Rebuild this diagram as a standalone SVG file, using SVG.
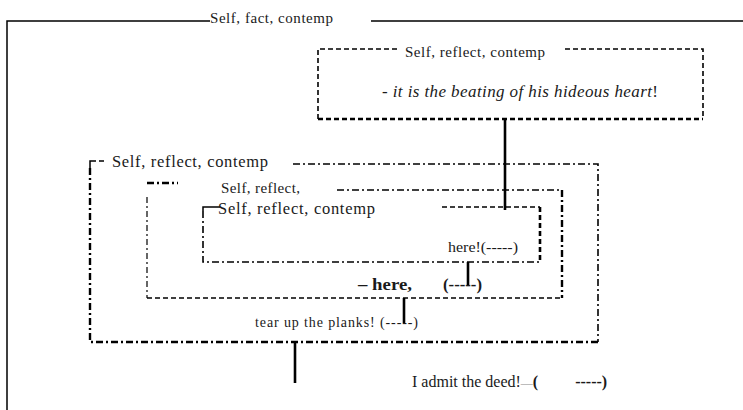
<svg xmlns="http://www.w3.org/2000/svg" width="743" height="410" viewBox="0 0 743 410">
<style>
  .t { font-family: "Liberation Serif", "Times New Roman", serif; fill: #1a1a1a; white-space: pre; }
  .solid { fill: none; stroke: #000; stroke-width: 1.5; }
  .dash { fill: none; stroke: #000; stroke-width: 1.6; stroke-dasharray: 5 3; }
  .dashB { fill: none; stroke: #000; stroke-width: 2.6; stroke-dasharray: 5 3; }
  .dd { fill: none; stroke: #000; stroke-width: 1.6; stroke-dasharray: 7 3 2 3; }
  .ddB { fill: none; stroke: #000; stroke-width: 2.4; stroke-dasharray: 7 3 2 3; }
  .ddT { fill: none; stroke: #000; stroke-width: 1.2; stroke-dasharray: 6 3 2 3; }
  .conn { fill: none; stroke: #000; stroke-width: 2.6; }
</style>
<rect width="743" height="410" fill="#fff"/>

<g id="outer">
  <path class="solid" d="M7,410 V21 H210 M371,21 H743"/>
  <text class="t" x="210" y="23" font-size="15" textLength="123" lengthAdjust="spacing">Self, fact, contemp</text>
</g>

<g id="box1">
  <path class="dash" d="M318,119 V49 H397 M565,49 H703 V119"/>
  <path class="dashB" d="M318,119 H703"/>
  <text class="t" x="405" y="57" font-size="15" textLength="140" lengthAdjust="spacing">Self, reflect, contemp</text>
  <text class="t" x="382" y="97" font-size="17" textLength="276" lengthAdjust="spacing"><tspan font-style="italic">- it is the beating of his hideous heart</tspan>!</text>
</g>

<g id="box2">
  <path class="solid" stroke-width="2" d="M90,168 V161 H96 M99,161 H104"/>
  <path class="dd" d="M293,164 H598 V342"/>
  <path class="ddB" d="M90,168 V342 H598"/>
  <text class="t" x="112" y="167" font-size="16.5" textLength="156" lengthAdjust="spacing">Self, reflect, contemp</text>
</g>

<g id="box3">
  <path class="ddB" d="M147,183 H178"/>
  <path class="ddT" d="M147,197 V298"/>
  <path class="dd" d="M337,190 H562"/>
  <path class="ddB" d="M562,190 V298"/>
  <path class="dash" d="M147,298 H562"/>
  <text class="t" x="221" y="193" font-size="15" textLength="79" lengthAdjust="spacing">Self, reflect,</text>
</g>

<g id="box4">
  <path class="solid" stroke-width="2" d="M203,211 V207 H220"/>
  <path class="dd" d="M203,211 V262 H540"/>
  <path class="dash" d="M442,207 H540"/>
  <path class="dashB" d="M540,207 V262"/>
  <text class="t" x="218" y="214" font-size="16.5" textLength="157" lengthAdjust="spacing">Self, reflect, contemp</text>
  <text class="t" x="448" y="252" font-size="14.5" textLength="70" lengthAdjust="spacingAndGlyphs">here!(-----)</text>
</g>

<g id="labels">
  <text class="t" x="358" y="290" font-size="17" font-weight="bold" textLength="54" lengthAdjust="spacingAndGlyphs">– here,</text>
  <text class="t" x="443" y="290" font-size="17" font-weight="bold" textLength="39" lengthAdjust="spacingAndGlyphs">(-----)</text>
  <text class="t" x="255" y="327" font-size="14" textLength="163" lengthAdjust="spacing">tear up the planks! (-----)</text>
  <text class="t" x="412" y="387" font-size="16">I admit the deed!<tspan font-size="12" fill="#888">—</tspan><tspan font-weight="bold">(</tspan><tspan dx="37" font-weight="bold">-----)</tspan></text>
</g>

<g id="connectors">
  <path class="conn" d="M505,119 V210"/>
  <path class="conn" d="M468,262 V285"/>
  <path class="conn" d="M404,298 V323"/>
  <path class="conn" d="M295,343 V383"/>
</g>
</svg>
